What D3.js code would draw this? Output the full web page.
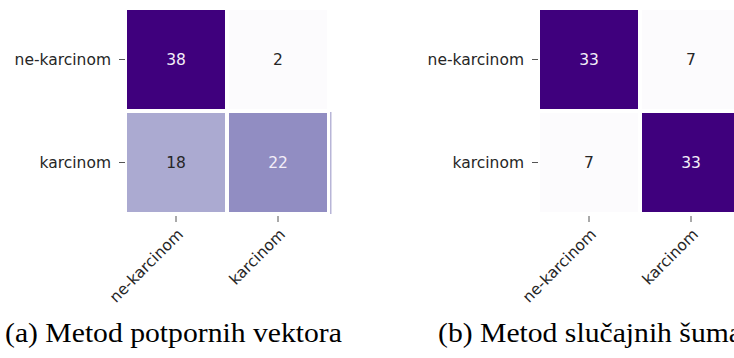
<!DOCTYPE html>
<html>
<head>
<meta charset="utf-8">
<script src="https://cdn.jsdelivr.net/npm/d3@7"></script>
<style>
  html, body { margin: 0; padding: 0; background: #fff; }
  svg { display: block; }
</style>
</head>
<body>
<svg id="fig" width="734" height="358"></svg>
<script>
// Class labels (rows = true class, columns = predicted class)
const classes = ["ne-karcinom", "karcinom"];

// Confusion matrices for the two classifiers
const svmMatrix = [[38, 2], [18, 22]];
const rfMatrix = [[33, 7], [7, 33]];

// Sub-figure captions
const captions = ["(a) Metod potpornih vektora", "(b) Metod slučajnih šuma"];

const svg = d3.select("#fig");

// Layout of each heatmap panel
const gridTop = 8, gridW = 204, gridH = 206, cellGap = 4;
const panels = [
  { matrix: svmMatrix, left: 125, caption: captions[0], capX: 5, edge: true },
  { matrix: rfMatrix, left: 538, caption: captions[1], capX: 438, edge: false }
];

const labelFont = "'DejaVu Sans', sans-serif";
const labelSize = 15.5;
const textDark = "#262626";

// caption typesetting
const captionFont = "'Liberation Serif', serif";
const captionSize = 27;
const captionBaseline = 342;
const captionWidth = 337;   // width of the first caption line

// matplotlib-style "Purples" colormap: linear segments between the 9 ColorBrewer stops
function purples(vmin, vmax) {
  const stops = d3.schemePurples[9];
  return d3.scaleLinear()
    .domain(stops.map((_, i) => vmin + (vmax - vmin) * i / (stops.length - 1)))
    .range(stops)
    .interpolate(d3.interpolateRgb)
    .clamp(true);
}

function luminance(c) {
  const rgb = d3.rgb(c);
  const lin = v => { v /= 255; return v <= 0.03928 ? v / 12.92 : Math.pow((v + 0.055) / 1.055, 2.4); };
  return 0.2126 * lin(rgb.r) + 0.7152 * lin(rgb.g) + 0.0722 * lin(rgb.b);
}

panels.forEach(p => {
  const flat = p.matrix.flat();
  const color = purples(d3.min(flat), d3.max(flat));

  const x = d3.scaleBand().domain(classes).range([p.left, p.left + gridW]);
  const y = d3.scaleBand().domain(classes).range([gridTop, gridTop + gridH]);

  const cells = [];
  p.matrix.forEach((row, i) => row.forEach((v, j) => cells.push({ r: classes[i], c: classes[j], v })));

  const g = svg.append("g");

  // heatmap cells, separated by white lines
  g.selectAll("rect.cell").data(cells).join("rect")
    .attr("class", "cell")
    .attr("x", d => x(d.c) + cellGap / 2)
    .attr("y", d => y(d.r) + cellGap / 2)
    .attr("width", x.bandwidth() - cellGap)
    .attr("height", y.bandwidth() - cellGap)
    .attr("fill", d => color(d.v));

  // annotations
  g.selectAll("text.annot").data(cells).join("text")
    .attr("class", "annot")
    .attr("x", d => x(d.c) + x.bandwidth() / 2)
    .attr("y", d => y(d.r) + y.bandwidth() / 2)
    .attr("dy", "0.36em")
    .attr("text-anchor", "middle")
    .attr("font-family", labelFont)
    .attr("font-size", labelSize)
    .attr("fill", d => luminance(color(d.v)) > 0.408 ? textDark : "#f3eef8")
    .text(d => d.v);

  // thin edge along the right side of the lower row
  if (p.edge) {
    const last = p.matrix[p.matrix.length - 1];
    g.append("rect")
      .attr("x", p.left + gridW + 1)
      .attr("y", y(classes[classes.length - 1]) + cellGap / 2 - 1)
      .attr("width", 1.5)
      .attr("height", y.bandwidth() - cellGap + 3)
      .attr("fill", d3.interpolateRgb(color(last[last.length - 1]), "#ffffff")(0.35));
  }

  // y axis: ticks and labels
  const yAxis = g.append("g");
  classes.forEach(c => {
    const cy = y(c) + y.bandwidth() / 2;
    yAxis.append("line")
      .attr("x1", p.left - 6).attr("x2", p.left)
      .attr("y1", cy).attr("y2", cy)
      .attr("stroke", "#555").attr("stroke-width", 1);
    yAxis.append("text")
      .attr("x", p.left - 14)
      .attr("y", cy)
      .attr("dy", "0.36em")
      .attr("text-anchor", "end")
      .attr("font-family", labelFont)
      .attr("font-size", labelSize)
      .attr("fill", textDark)
      .text(c);
  });

  // x axis: ticks and 45-degree labels
  const xAxis = g.append("g");
  const tickTop = gridTop + gridH + 2;
  classes.forEach(c => {
    const cx = x(c) + x.bandwidth() / 2;
    xAxis.append("line")
      .attr("x1", cx).attr("x2", cx)
      .attr("y1", tickTop).attr("y2", tickTop + 6)
      .attr("stroke", "#555").attr("stroke-width", 1);
    xAxis.append("text")
      .attr("transform", `translate(${cx},${tickTop + 11}) rotate(-45)`)
      .attr("dy", "0.75em")
      .attr("text-anchor", "end")
      .attr("font-family", labelFont)
      .attr("font-size", labelSize)
      .attr("fill", textDark)
      .text(c);
  });
});

// captions: both lines share one horizontal scale so the first spans captionWidth
const capNodes = panels.map(p => svg.append("text")
  .attr("font-family", captionFont)
  .attr("font-size", captionSize)
  .attr("fill", "#000")
  .text(p.caption));
const sx = captionWidth / capNodes[0].node().getComputedTextLength();
capNodes.forEach((t, i) => {
  t.attr("transform", `translate(${panels[i].capX},${captionBaseline}) scale(${sx},1)`);
});
</script>
</body>
</html>
